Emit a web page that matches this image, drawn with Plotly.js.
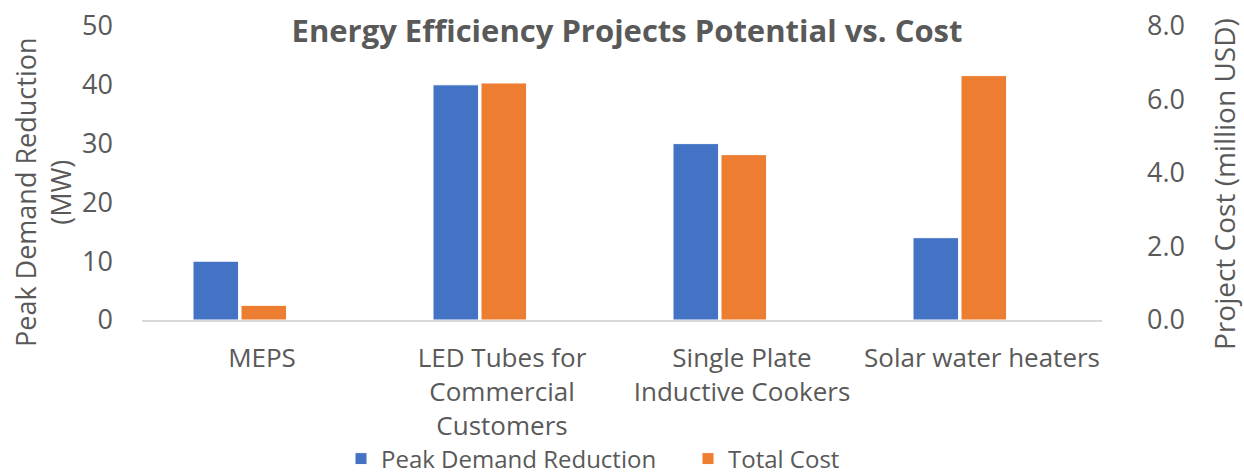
<!DOCTYPE html>
<html>
<head>
<meta charset="utf-8">
<script src="https://cdn.plot.ly/plotly-3.0.1.min.js"></script>
<style>
  body { margin: 0; background: #fff; }
  #chart { width: 1244px; height: 476px; }
</style>
</head>
<body>
<div id="chart"></div>
<script>
// categories on the x axis (line breaks as in the picture)
const projects = ['MEPS', 'LED Tubes for<br>Commercial<br>Customers', 'Single Plate<br>Inductive Cookers', 'Solar water heaters'];
// peak demand reduction, MW (left axis)
const peakDemand = [10, 40, 30, 14];
// total cost, million USD (right axis)
const totalCost = [0.4, 6.45, 4.5, 6.65];

const grey = '#595959';
const font = 'Open Sans, sans-serif';

// the Excel chart leaves room for a third (empty) bar, so the pair sits left of centre
const barWidth = 0.19;

const data = [
  {
    x: projects,
    y: peakDemand,
    name: 'Peak Demand Reduction',
    type: 'bar',
    yaxis: 'y',
    width: barWidth,
    offset: -0.2875,
    marker: { color: '#4472c4', line: { color: '#ffffff', width: 1 } },
    hoverinfo: 'y'
  },
  {
    x: projects,
    y: totalCost,
    name: 'Total Cost',
    type: 'bar',
    yaxis: 'y2',
    width: barWidth,
    offset: -0.0875,
    marker: { color: '#ed7d31', line: { color: '#ffffff', width: 1 } },
    hoverinfo: 'y'
  }
];

const layout = {
  width: 1244,
  height: 476,
  margin: { l: 142, r: 142, t: 26, b: 156 },
  paper_bgcolor: '#ffffff',
  plot_bgcolor: '#ffffff',
  font: { family: font, color: grey, size: 26 },
  title: {
    text: '<b>Energy Efficiency Projects Potential vs. Cost</b>',
    font: { family: font, size: 31, color: grey },
    x: 627 / 1244,
    xanchor: 'center',
    y: 1 - 31 / 476,
    yanchor: 'middle',
    xref: 'container',
    yref: 'container'
  },
  barmode: 'overlay',
  showlegend: true,
  legend: {
    orientation: 'h',
    x: 341 / 1244,
    xanchor: 'left',
    xref: 'container',
    y: 17 / 476,
    yanchor: 'middle',
    yref: 'container',
    entrywidth: 302,
    bgcolor: 'rgba(0,0,0,0)',
    font: { family: font, size: 24, color: grey }
  },
  xaxis: {
    type: 'category',
    showgrid: false,
    showline: true,
    linecolor: '#d9d9d9',
    linewidth: 2,
    ticks: '',
    tickfont: { family: font, size: 26, color: grey },
    ticklabelstandoff: 14,
    automargin: false
  },
  yaxis: {
    range: [0, 50],
    dtick: 10,
    showgrid: false,
    zeroline: false,
    showline: false,
    ticks: '',
    ticklabelstandoff: 28,
    tickfont: { family: font, size: 27, color: grey },
    automargin: false
  },
  yaxis2: {
    range: [0, 8],
    dtick: 2,
    tickformat: '.1f',
    overlaying: 'y',
    side: 'right',
    showgrid: false,
    zeroline: false,
    showline: false,
    ticks: '',
    ticklabelstandoff: 44,
    tickfont: { family: font, size: 27, color: grey },
    automargin: false
  },
  annotations: [
    {
      text: 'Peak Demand Reduction<br>(MW)',
      textangle: -90,
      xref: 'paper', yref: 'paper',
      x: (43 - 142) / 960, y: (320 - 192) / 294,
      xanchor: 'center', yanchor: 'middle',
      showarrow: false,
      font: { family: font, size: 27, color: grey }
    },
    {
      text: 'Project Cost (million USD)',
      textangle: -90,
      xref: 'paper', yref: 'paper',
      x: (1224 - 142) / 960, y: (320 - 184) / 294,
      xanchor: 'center', yanchor: 'middle',
      showarrow: false,
      font: { family: font, size: 28, color: grey }
    }
  ]
};

Plotly.newPlot('chart', data, layout, { displayModeBar: false, staticPlot: true });
</script>
</body>
</html>
